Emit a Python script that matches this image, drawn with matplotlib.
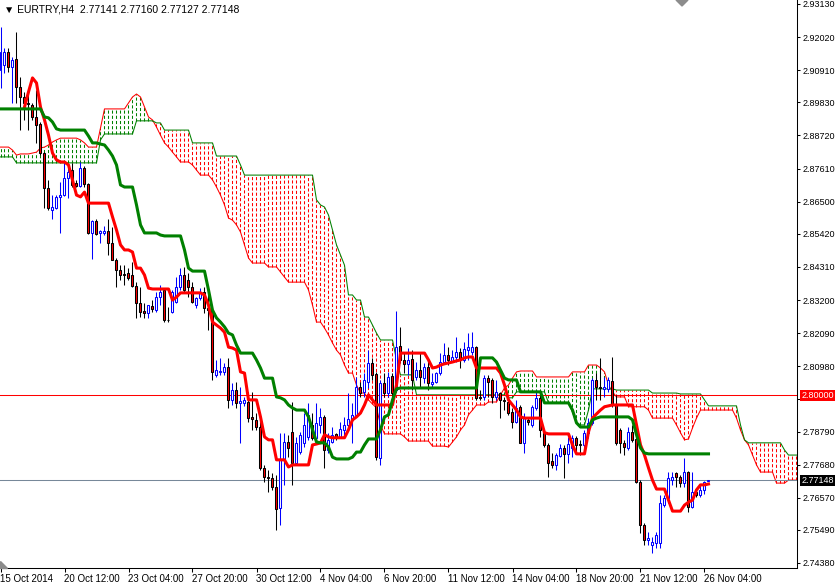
import matplotlib
matplotlib.use('Agg')
import matplotlib.pyplot as plt
import matplotlib.transforms as mtransforms
from matplotlib.patches import Polygon
import numpy as np

plt.rcParams['font.family'] = ['Liberation Sans', 'DejaVu Sans']

opens = [
    2.9092, 2.9108, 2.9152, 2.9102, 2.9128, 2.9034, 2.9001, 2.8981, 2.8974, 2.8934,
    2.8910, 2.8813, 2.8696, 2.8622, 2.8629, 2.8666, 2.8672, 2.8729, 2.8756, 2.8713,
    2.8702, 2.8763, 2.8709, 2.8545, 2.8585, 2.8545, 2.8545, 2.8552, 2.8511, 2.8454,
    2.8421, 2.8407, 2.8411, 2.8404, 2.8367, 2.8310, 2.8283, 2.8277, 2.8300, 2.8286,
    2.8330, 2.8354, 2.8253, 2.8280, 2.8313, 2.8364, 2.8404, 2.8387, 2.8364, 2.8303,
    2.8327, 2.8347, 2.8293, 2.8286, 2.8069, 2.8079, 2.8079, 2.8095, 2.7985, 2.8018,
    2.7975, 2.7975, 2.7978, 2.7928, 2.7918, 2.7894, 2.7757, 2.7726, 2.7723, 2.7693,
    2.7622, 2.7784, 2.7844, 2.7878, 2.7773, 2.7810, 2.7841, 2.7861, 2.7901, 2.7858,
    2.7901, 2.7928, 2.7817, 2.7844, 2.7871, 2.7861, 2.7885, 2.7901, 2.7918, 2.7935,
    2.8028, 2.8012, 2.8045, 2.8109, 2.8072, 2.7790, 2.8042, 2.8008, 2.8065, 2.8018,
    2.8166, 2.8119, 2.8106, 2.8122, 2.8062, 2.8085, 2.8058, 2.8095, 2.8038, 2.8045,
    2.8075, 2.8112, 2.8136, 2.8116, 2.8129, 2.8146, 2.8119, 2.8152, 2.8146, 2.8162,
    2.7995, 2.7995, 2.8058, 2.8052, 2.7995, 2.8008, 2.7985, 2.7978, 2.7944, 2.7911,
    2.7962, 2.7841, 2.7918, 2.7901, 2.7958, 2.7992, 2.7878, 2.7834, 2.7780, 2.7767,
    2.7797, 2.7824, 2.7804, 2.7824, 2.7858, 2.7837, 2.7834, 2.7875, 2.7908, 2.8052,
    2.8028, 2.8022, 2.8022, 2.8048, 2.7968, 2.7885, 2.7841, 2.7824, 2.7878, 2.7854,
    2.7710, 2.7565, 2.7515, 2.7499, 2.7505, 2.7505, 2.7632, 2.7656, 2.7716, 2.7740,
    2.7726, 2.7706, 2.7743, 2.7626, 2.7676, 2.7666, 2.7683, 2.77141,
]
highs = [
    2.9236, 2.9165, 2.9165, 2.9135, 2.9219, 2.9068, 2.9018, 2.9024, 2.8981, 2.9024,
    2.8917, 2.8816, 2.8723, 2.8672, 2.8672, 2.8716, 2.8780, 2.8763, 2.8780, 2.8723,
    2.8783, 2.8770, 2.8713, 2.8588, 2.8592, 2.8555, 2.8568, 2.8592, 2.8565, 2.8461,
    2.8437, 2.8437, 2.8427, 2.8448, 2.8380, 2.8364, 2.8310, 2.8303, 2.8320, 2.8347,
    2.8370, 2.8360, 2.8296, 2.8354, 2.8397, 2.8427, 2.8431, 2.8411, 2.8380, 2.8330,
    2.8360, 2.8364, 2.8344, 2.8293, 2.8119, 2.8126, 2.8109, 2.8126, 2.8042, 2.8045,
    2.8028, 2.7995, 2.8012, 2.8012, 2.7941, 2.7928, 2.7767, 2.7750, 2.7740, 2.7733,
    2.7875, 2.7875, 2.7868, 2.7978, 2.7861, 2.7878, 2.7941, 2.7975, 2.7941, 2.7975,
    2.7958, 2.7935, 2.7875, 2.7894, 2.7875, 2.7911, 2.7928, 2.8008, 2.7975, 2.8062,
    2.8045, 2.8075, 2.8152, 2.8126, 2.8079, 2.8052, 2.8075, 2.8079, 2.8075, 2.8283,
    2.8230, 2.8142, 2.8159, 2.8152, 2.8112, 2.8142, 2.8109, 2.8119, 2.8075, 2.8079,
    2.8142, 2.8176, 2.8162, 2.8152, 2.8196, 2.8159, 2.8179, 2.8209, 2.8212, 2.8166,
    2.8018, 2.8069, 2.8069, 2.8058, 2.8052, 2.8012, 2.7995, 2.7992, 2.7958, 2.7985,
    2.7968, 2.7941, 2.7928, 2.7968, 2.8018, 2.8008, 2.7885, 2.7841, 2.7807, 2.7807,
    2.7837, 2.7834, 2.7861, 2.7868, 2.7864, 2.7851, 2.7885, 2.7924, 2.8058, 2.8075,
    2.8126, 2.8062, 2.8062, 2.8129, 2.8002, 2.7891, 2.7851, 2.7894, 2.7901, 2.7908,
    2.7716, 2.7572, 2.7542, 2.7525, 2.7542, 2.7666, 2.7666, 2.7743, 2.7743, 2.7743,
    2.7733, 2.7790, 2.7747, 2.7743, 2.7689, 2.7700, 2.7713, 2.77160,
]
lows = [
    2.9031, 2.9081, 2.9085, 2.8981, 2.8981, 2.8890, 2.8924, 2.8890, 2.8924, 2.8847,
    2.8806, 2.8629, 2.8622, 2.8592, 2.8625, 2.8545, 2.8669, 2.8662, 2.8699, 2.8699,
    2.8699, 2.8699, 2.8542, 2.8458, 2.8538, 2.8511, 2.8538, 2.8471, 2.8454, 2.8364,
    2.8387, 2.8370, 2.8387, 2.8364, 2.8260, 2.8263, 2.8260, 2.8260, 2.8280, 2.8280,
    2.8303, 2.8246, 2.8246, 2.8277, 2.8310, 2.8354, 2.8344, 2.8330, 2.8310, 2.8293,
    2.8320, 2.8277, 2.8219, 2.8052, 2.8062, 2.8069, 2.8069, 2.7958, 2.7968, 2.7958,
    2.7841, 2.7965, 2.7911, 2.7885, 2.7885, 2.7750, 2.7710, 2.7676, 2.7683, 2.7549,
    2.7565, 2.7700, 2.7793, 2.7700, 2.7770, 2.7804, 2.7827, 2.7851, 2.7851, 2.7851,
    2.7875, 2.7757, 2.7807, 2.7841, 2.7851, 2.7858, 2.7861, 2.7885, 2.7841, 2.7928,
    2.7995, 2.7995, 2.8025, 2.8052, 2.7784, 2.7767, 2.7995, 2.7995, 2.7995, 2.8012,
    2.8109, 2.8075, 2.8069, 2.8018, 2.8052, 2.8028, 2.8042, 2.8018, 2.8025, 2.8042,
    2.8069, 2.8109, 2.8102, 2.8112, 2.8112, 2.8092, 2.8112, 2.8119, 2.8136, 2.7985,
    2.7985, 2.7985, 2.7995, 2.7975, 2.7985, 2.7924, 2.7951, 2.7935, 2.7891, 2.7908,
    2.7841, 2.7807, 2.7901, 2.7894, 2.7951, 2.7861, 2.7827, 2.7726, 2.7757, 2.7750,
    2.7793, 2.7723, 2.7773, 2.7793, 2.7807, 2.7800, 2.7807, 2.7858, 2.7901, 2.7985,
    2.7985, 2.7995, 2.8012, 2.7962, 2.7834, 2.7807, 2.7800, 2.7817, 2.7844, 2.7706,
    2.7539, 2.7499, 2.7499, 2.7472, 2.7489, 2.7489, 2.7626, 2.7639, 2.7700, 2.7693,
    2.7693, 2.7693, 2.7609, 2.7622, 2.7659, 2.7659, 2.7669, 2.77127,
]
closes = [
    2.9152, 2.9152, 2.9102, 2.9125, 2.9034, 2.9001, 2.8981, 2.8977, 2.8934, 2.8907,
    2.8813, 2.8696, 2.8629, 2.8632, 2.8666, 2.8672, 2.8729, 2.8749, 2.8706, 2.8702,
    2.8763, 2.8709, 2.8545, 2.8585, 2.8542, 2.8552, 2.8552, 2.8511, 2.8454, 2.8421,
    2.8404, 2.8404, 2.8394, 2.8367, 2.8310, 2.8280, 2.8277, 2.8303, 2.8290, 2.8330,
    2.8347, 2.8253, 2.8252, 2.8347, 2.8364, 2.8404, 2.8354, 2.8364, 2.8313, 2.8327,
    2.8347, 2.8293, 2.8286, 2.8079, 2.8085, 2.8082, 2.8095, 2.7985, 2.8018, 2.7975,
    2.7982, 2.7985, 2.7924, 2.7921, 2.7894, 2.7757, 2.7726, 2.7723, 2.7693, 2.7619,
    2.7784, 2.7844, 2.7824, 2.7773, 2.7841, 2.7868, 2.7901, 2.7935, 2.7858, 2.7908,
    2.7928, 2.7817, 2.7851, 2.7868, 2.7861, 2.7888, 2.7901, 2.7921, 2.7935, 2.8028,
    2.8008, 2.8052, 2.8109, 2.8069, 2.7793, 2.8042, 2.8008, 2.8062, 2.8008, 2.8162,
    2.8119, 2.8106, 2.8119, 2.8052, 2.8085, 2.8062, 2.8095, 2.8042, 2.8045, 2.8075,
    2.8112, 2.8136, 2.8119, 2.8129, 2.8146, 2.8119, 2.8156, 2.8162, 2.8162, 2.7992,
    2.7992, 2.8058, 2.8045, 2.7995, 2.8012, 2.7985, 2.7982, 2.7941, 2.7911, 2.7958,
    2.7841, 2.7928, 2.7911, 2.7962, 2.7992, 2.7885, 2.7834, 2.7773, 2.7767, 2.7800,
    2.7824, 2.7804, 2.7837, 2.7858, 2.7834, 2.7834, 2.7875, 2.7908, 2.8052, 2.8028,
    2.8025, 2.8028, 2.8052, 2.7968, 2.7841, 2.7841, 2.7827, 2.7878, 2.7851, 2.7710,
    2.7565, 2.7515, 2.7522, 2.7509, 2.7532, 2.7639, 2.7656, 2.7723, 2.7726, 2.7726,
    2.7706, 2.7743, 2.7626, 2.7676, 2.7666, 2.7683, 2.7710, 2.77148,
]

tenkan = [
    None, None, None, None, None, None, 2.8967, 2.9018, 2.9065, 2.9048,
    2.8967, 2.8924, 2.8873, 2.8813, 2.8790, 2.8783, 2.8783, 2.8773, 2.8723, 2.8672,
    2.8666, 2.8682, 2.8645, 2.8645, 2.8645, 2.8645, 2.8645, 2.8645, 2.8599, 2.8555,
    2.8505, 2.8488, 2.8488, 2.8481, 2.8427, 2.8427, 2.8404, 2.8360, 2.8357, 2.8357,
    2.8357, 2.8357, 2.8357, 2.8320, 2.8330, 2.8344, 2.8344, 2.8344, 2.8344, 2.8344,
    2.8344, 2.8337, 2.8303, 2.8246, 2.8236, 2.8226, 2.8212, 2.8162, 2.8159, 2.8152,
    2.8079, 2.8075, 2.7985, 2.7985, 2.7985, 2.7928, 2.7861, 2.7851, 2.7851, 2.7784,
    2.7784, 2.7784, 2.7760, 2.7767, 2.7767, 2.7767, 2.7767, 2.7767, 2.7834, 2.7837,
    2.7841, 2.7868, 2.7861, 2.7858, 2.7858, 2.7858, 2.7858, 2.7885, 2.7918, 2.7928,
    2.7941, 2.7968, 2.8002, 2.7985, 2.7968, 2.7968, 2.7968, 2.7968, 2.7968, 2.8035,
    2.8142, 2.8142, 2.8142, 2.8142, 2.8142, 2.8142, 2.8142, 2.8119, 2.8092, 2.8095,
    2.8102, 2.8106, 2.8109, 2.8112, 2.8116, 2.8119, 2.8126, 2.8129, 2.8129, 2.8092,
    2.8092, 2.8092, 2.8092, 2.8092, 2.8092, 2.8075, 2.8035, 2.7985, 2.7968, 2.7951,
    2.7928, 2.7924, 2.7924, 2.7924, 2.7924, 2.7924, 2.7875, 2.7871, 2.7871, 2.7871,
    2.7871, 2.7871, 2.7871, 2.7834, 2.7804, 2.7804, 2.7804, 2.7878, 2.7924, 2.7938,
    2.7951, 2.7962, 2.7965, 2.7968, 2.7968, 2.7968, 2.7968, 2.7968, 2.7968, 2.7901,
    2.7834, 2.7800, 2.7757, 2.7716, 2.7686, 2.7686, 2.7686, 2.7649, 2.7612, 2.7612,
    2.7612, 2.7632, 2.7642, 2.7649, 2.7683, 2.7700, 2.7700, 2.7703,
]
kijun = [
    2.8961, 2.8961, 2.8961, 2.8961, 2.8961, 2.8961, 2.8961, 2.8961, 2.8961, 2.8961,
    2.8961, 2.8934, 2.8931, 2.8917, 2.8894, 2.8890, 2.8890, 2.8890, 2.8890, 2.8890,
    2.8890, 2.8890, 2.8870, 2.8847, 2.8847, 2.8843, 2.8840, 2.8823, 2.8803, 2.8773,
    2.8706, 2.8699, 2.8699, 2.8699, 2.8639, 2.8572, 2.8545, 2.8545, 2.8545, 2.8545,
    2.8538, 2.8535, 2.8535, 2.8535, 2.8535, 2.8535, 2.8488, 2.8427, 2.8417, 2.8417,
    2.8417, 2.8417, 2.8354, 2.8286, 2.8260, 2.8246, 2.8230, 2.8209, 2.8203, 2.8169,
    2.8142, 2.8142, 2.8142, 2.8142, 2.8119, 2.8092, 2.8058, 2.8058, 2.8058, 2.7995,
    2.7992, 2.7985, 2.7968, 2.7958, 2.7951, 2.7951, 2.7951, 2.7928, 2.7885, 2.7844,
    2.7841, 2.7841, 2.7827, 2.7793, 2.7787, 2.7787, 2.7787, 2.7787, 2.7793, 2.7810,
    2.7810, 2.7834, 2.7854, 2.7854, 2.7854, 2.7885, 2.7928, 2.7935, 2.7985, 2.8022,
    2.8025, 2.8025, 2.8025, 2.8025, 2.8025, 2.8025, 2.8025, 2.8025, 2.8025, 2.8025,
    2.8025, 2.8025, 2.8025, 2.8025, 2.8025, 2.8025, 2.8025, 2.8025, 2.8025, 2.8025,
    2.8126, 2.8126, 2.8126, 2.8126, 2.8112, 2.8085, 2.8058, 2.8052, 2.8052, 2.8052,
    2.8012, 2.8012, 2.8012, 2.8012, 2.8012, 2.8012, 2.7975, 2.7975, 2.7975, 2.7975,
    2.7975, 2.7975, 2.7975, 2.7951, 2.7908, 2.7894, 2.7894, 2.7894, 2.7918, 2.7924,
    2.7928, 2.7928, 2.7928, 2.7928, 2.7928, 2.7928, 2.7928, 2.7928, 2.7918, 2.7868,
    2.7824, 2.7807, 2.7804, 2.7804, 2.7804, 2.7804, 2.7804, 2.7804, 2.7804, 2.7804,
    2.7804, 2.7804, 2.7804, 2.7804, 2.7804, 2.7804, 2.7804, 2.7804,
]
span_a = [
    2.8833, 2.8833, 2.8833, 2.8823, 2.8806, 2.8810, 2.8810, 2.8810, 2.8813, 2.8816,
    2.8830, 2.8833, 2.8840, 2.8850, 2.8857, 2.8863, 2.8863, 2.8863, 2.8863, 2.8863,
    2.8857, 2.8847, 2.8833, 2.8833, 2.8833, 2.8897, 2.8961, 2.8961, 2.8961, 2.8961,
    2.8961, 2.8961, 2.8981, 2.9001, 2.9011, 2.9001, 2.8967, 2.8934, 2.8924, 2.8900,
    2.8873, 2.8847, 2.8833, 2.8816, 2.8800, 2.8783, 2.8783, 2.8783, 2.8773, 2.8756,
    2.8739, 2.8739, 2.8739, 2.8723, 2.8699, 2.8672, 2.8639, 2.8595, 2.8588, 2.8572,
    2.8548, 2.8505, 2.8461, 2.8444, 2.8444, 2.8444, 2.8444, 2.8431, 2.8431, 2.8431,
    2.8414, 2.8397, 2.8380, 2.8380, 2.8380, 2.8380, 2.8380, 2.8354, 2.8303, 2.8246,
    2.8246, 2.8226, 2.8203, 2.8176, 2.8152, 2.8136, 2.8102, 2.8075, 2.8075, 2.8035,
    2.8008, 2.8008, 2.7985, 2.7971, 2.7958, 2.7901, 2.7871, 2.7871, 2.7871, 2.7871,
    2.7871, 2.7861, 2.7847, 2.7847, 2.7847, 2.7847, 2.7847, 2.7847, 2.7830, 2.7830,
    2.7830, 2.7830, 2.7827, 2.7844, 2.7861, 2.7884, 2.7901, 2.7935, 2.7951, 2.7968,
    2.7968, 2.7968, 2.7978, 2.7978, 2.7978, 2.8002, 2.8025, 2.8035, 2.8058, 2.8079,
    2.8082, 2.8082, 2.8082, 2.8082, 2.8062, 2.8062, 2.8062, 2.8062, 2.8062, 2.8062,
    2.8062, 2.8062, 2.8062, 2.8079, 2.8079, 2.8079, 2.8079, 2.8102, 2.8102, 2.8102,
    2.8092, 2.8079, 2.8035, 2.8012, 2.7995, 2.7995, 2.7995, 2.7962, 2.7962, 2.7962,
    2.7962, 2.7962, 2.7951, 2.7924, 2.7924, 2.7924, 2.7924, 2.7924, 2.7924, 2.7901,
    2.7875, 2.7851, 2.7854, 2.7891, 2.7924, 2.7951, 2.7951, 2.7951, 2.7951, 2.7951,
    2.7951, 2.7951, 2.7951, 2.7951, 2.7924, 2.7884, 2.7851, 2.7834, 2.7800, 2.7767,
    2.7743, 2.7743, 2.7743, 2.7743, 2.7706, 2.7706, 2.7706, 2.7716, 2.7716, 2.7716,
]
span_b = [
    2.8800, 2.8800, 2.8800, 2.8800, 2.8780, 2.8780, 2.8780, 2.8780, 2.8780, 2.8780,
    2.8780, 2.8780, 2.8780, 2.8780, 2.8780, 2.8780, 2.8780, 2.8780, 2.8780, 2.8780,
    2.8780, 2.8780, 2.8780, 2.8780, 2.8780, 2.8857, 2.8877, 2.8877, 2.8877, 2.8877,
    2.8877, 2.8877, 2.8877, 2.8877, 2.8921, 2.8921, 2.8921, 2.8921, 2.8921, 2.8914,
    2.8914, 2.8890, 2.8890, 2.8890, 2.8890, 2.8890, 2.8890, 2.8890, 2.8847, 2.8847,
    2.8847, 2.8847, 2.8847, 2.8847, 2.8803, 2.8803, 2.8803, 2.8803, 2.8803, 2.8803,
    2.8773, 2.8739, 2.8739, 2.8739, 2.8739, 2.8739, 2.8739, 2.8739, 2.8739, 2.8739,
    2.8739, 2.8739, 2.8739, 2.8739, 2.8739, 2.8739, 2.8739, 2.8739, 2.8739, 2.8656,
    2.8639, 2.8632, 2.8605, 2.8555, 2.8505, 2.8471, 2.8437, 2.8337, 2.8337, 2.8320,
    2.8320, 2.8263, 2.8263, 2.8236, 2.8209, 2.8186, 2.8186, 2.8186, 2.8186, 2.8119,
    2.8069, 2.8069, 2.8069, 2.8069, 2.8002, 2.8002, 2.8002, 2.8002, 2.8002, 2.8002,
    2.8002, 2.8002, 2.8002, 2.8002, 2.8002, 2.8002, 2.8002, 2.8002, 2.8002, 2.8002,
    2.8002, 2.8002, 2.8002, 2.8002, 2.8002, 2.8002, 2.8002, 2.7992, 2.7992, 2.8012,
    2.8012, 2.8012, 2.8012, 2.8012, 2.8012, 2.8012, 2.8012, 2.7975, 2.7975, 2.7975,
    2.7975, 2.7975, 2.7975, 2.7944, 2.7908, 2.7901, 2.7901, 2.7951, 2.8022, 2.8022,
    2.8022, 2.8022, 2.8022, 2.8022, 2.8018, 2.8018, 2.8018, 2.8018, 2.8018, 2.8018,
    2.8018, 2.8018, 2.8018, 2.8008, 2.8008, 2.8008, 2.8008, 2.8008, 2.8008, 2.8008,
    2.8005, 2.8005, 2.8005, 2.8005, 2.8005, 2.8005, 2.7985, 2.7965, 2.7965, 2.7965,
    2.7965, 2.7965, 2.7965, 2.7965, 2.7965, 2.7901, 2.7851, 2.7841, 2.7841, 2.7841,
    2.7841, 2.7841, 2.7841, 2.7841, 2.7841, 2.7841, 2.7817, 2.7800, 2.7800, 2.7800,
]

price_ticks = [2.93130, 2.92020, 2.90910, 2.89830, 2.88720, 2.87610, 2.86500, 2.85420,
               2.84310, 2.83200, 2.82090, 2.80980, 2.79880, 2.78790, 2.77680, 2.76570,
               2.75490, 2.74380]
date_ticks = [0, 16, 32, 48, 64, 80, 96, 112, 128, 144, 160, 176]
date_labels = ['15 Oct 2014', '20 Oct 12:00', '23 Oct 04:00', '27 Oct 20:00', '30 Oct 12:00',
               '4 Nov 04:00', '6 Nov 20:00', '11 Nov 12:00', '14 Nov 04:00', '18 Nov 20:00',
               '21 Nov 12:00', '26 Nov 04:00']
level = 2.80000
bid = 2.77148
title = '\u25bc EURTRY,H4  2.77141 2.77160 2.77127 2.77148'

o = np.array(opens)
h = np.array(highs)
l = np.array(lows)
c = np.array(closes)
x = np.arange(len(c))
a = np.array(span_a)
b = np.array(span_b)
xc = np.arange(len(a))

W, H = 835, 585
fig = plt.figure(figsize=(W / 100, H / 100), dpi=100)
ax = fig.add_axes([0, 17 / H, 797 / W, 568 / H])
ax.set_xlim(-0.125, 199.125)
ax.set_ylim(2.74212, 2.93263)

# cloud hatch and spans
green = a >= b
ax.vlines(xc[green], b[green], a[green], colors='#008000', linestyles=(0, (3, 2)), lw=0.75, zorder=1)
ax.vlines(xc[~green], a[~green], b[~green], colors='#ff0000', linestyles=(0, (3, 2)), lw=0.75, zorder=1)
ax.plot(xc, a, color='#ff0000', lw=0.75, zorder=2)
ax.plot(xc, b, color='#008000', lw=0.75, zorder=2)

ax.axhline(level, color='#ff0000', lw=0.75, zorder=2)
ax.axhline(bid, color='#778899', lw=0.75, zorder=2)

# candles
up = c > o
dn = c < o
eq = c == o
ax.vlines(x[up], l[up], h[up], color='#0000ff', lw=0.75, zorder=3)
ax.vlines(x[~up], l[~up], h[~up], color='black', lw=0.75, zorder=3)
ax.bar(x[up], c[up] - o[up], bottom=o[up], width=0.5, facecolor='white',
       edgecolor='#0000ff', lw=0.75, zorder=4)
ax.bar(x[dn], o[dn] - c[dn], bottom=c[dn], width=0.5, facecolor='#ff0000',
       edgecolor='black', lw=0.75, zorder=4)
ax.hlines(c[eq], x[eq] - 0.3, x[eq] + 0.3, color='black', lw=0.75, zorder=4)

# tenkan / kijun
ax.plot(x, np.array(tenkan, dtype=float), color='#ff0000', lw=2.2, zorder=5)
ax.plot(x, np.array(kijun, dtype=float), color='#008000', lw=2.2, zorder=5)

# axes styling
for s in ['left', 'top']:
    ax.spines[s].set_visible(False)
for s in ['right', 'bottom']:
    ax.spines[s].set_linewidth(0.75)
ax.yaxis.tick_right()
ax.set_yticks(price_ticks)
# the 2.79880 label sits under the 2.80000 level box
ax.set_yticklabels(['' if abs(v - 2.79880) < 1e-6 else f'{v:.5f}' for v in price_ticks])
ax.set_xticks(date_ticks)
ax.set_xticklabels(date_labels, ha='left')
ax.tick_params(axis='y', direction='out', length=2.5, width=0.75, pad=1.5, labelsize=6.5)
ax.tick_params(axis='x', direction='out', length=3, width=0.75, pad=1.5, labelsize=7)

off = mtransforms.ScaledTranslation(4.5 / 100, 0, fig.dpi_scale_trans)
tr = mtransforms.blended_transform_factory(ax.transAxes, ax.transData) + off
ax.text(1.0, level, f'{level:.5f}', transform=tr, va='center', ha='left', fontsize=6.5,
        color='white', clip_on=False, zorder=10,
        bbox=dict(facecolor='#ff0000', edgecolor='none', pad=0.8))
ax.text(1.0, bid, f'{bid:.5f}', transform=tr, va='center', ha='left', fontsize=6.5,
        color='white', clip_on=False, zorder=10,
        bbox=dict(facecolor='black', edgecolor='none', pad=0.8))

fig.text(4 / W, 1 - 9 / H, title, fontsize=7.5, va='center', ha='left', color='black')

# chart shift markers
fig.patches.append(Polygon([[0, 1 - 561 / H], [0, 1 - 568 / H], [7 / W, 1 - 568 / H]],
                           closed=True, transform=fig.transFigure, color='#8c8c8c'))
fig.patches.append(Polygon([[676 / W, 1], [688 / W, 1], [682 / W, 1 - 6 / H]],
                           closed=True, transform=fig.transFigure, color='#8c8c8c'))

fig.savefig('out.png', dpi=100)
